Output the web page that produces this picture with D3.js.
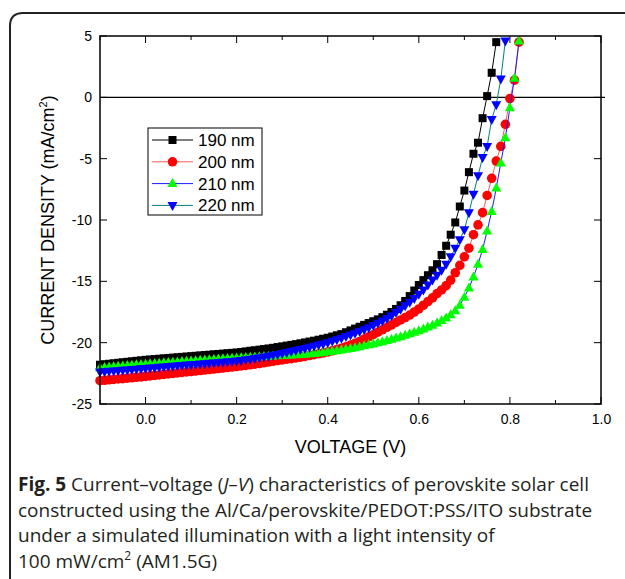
<!DOCTYPE html>
<html>
<head>
<meta charset="utf-8">
<script src="https://cdn.jsdelivr.net/npm/d3@7"></script>
<style>
  body { margin: 0; background: #fff; }
  svg { display: block; }
  .axis text { font-family: "Liberation Sans", Arial, sans-serif; font-size: 14px; fill: #000; }
  .title { font-family: "Liberation Sans", Arial, sans-serif; font-size: 18px; fill: #000; }
  .legend text { font-family: "Liberation Sans", Arial, sans-serif; font-size: 17px; fill: #000; }
  .caption { font-family: "Open Sans", sans-serif; font-size: 19px; fill: #231f20; }
</style>
</head>
<body>
<svg class="chart"></svg>
<script>
const voltage = [
  -0.10, -0.09, -0.08, -0.07, -0.06, -0.05, -0.04, -0.03, -0.02, -0.01,
  0.00, 0.01, 0.02, 0.03, 0.04, 0.05, 0.06, 0.07, 0.08, 0.09,
  0.10, 0.11, 0.12, 0.13, 0.14, 0.15, 0.16, 0.17, 0.18, 0.19,
  0.20, 0.21, 0.22, 0.23, 0.24, 0.25, 0.26, 0.27, 0.28, 0.29,
  0.30, 0.31, 0.32, 0.33, 0.34, 0.35, 0.36, 0.37, 0.38, 0.39,
  0.40, 0.41, 0.42, 0.43, 0.44, 0.45, 0.46, 0.47, 0.48, 0.49,
  0.50, 0.51, 0.52, 0.53, 0.54, 0.55, 0.56, 0.57, 0.58, 0.59,
  0.60, 0.61, 0.62, 0.63, 0.64, 0.65, 0.66, 0.67, 0.68, 0.69,
  0.70, 0.71, 0.72, 0.73, 0.74, 0.75, 0.76, 0.77, 0.78, 0.79,
  0.80, 0.81, 0.82
];

// current density (mA/cm2), one value per voltage step
const j190 = [
  -21.80, -21.76, -21.72, -21.68, -21.64, -21.60, -21.56, -21.52, -21.48, -21.44,
  -21.40, -21.37, -21.34, -21.31, -21.28, -21.25, -21.22, -21.19, -21.16, -21.13,
  -21.10, -21.07, -21.04, -21.01, -20.98, -20.95, -20.92, -20.89, -20.86, -20.83,
  -20.80, -20.76, -20.71, -20.66, -20.62, -20.57, -20.52, -20.47, -20.42, -20.36,
  -20.30, -20.24, -20.18, -20.12, -20.05, -19.98, -19.91, -19.84, -19.76, -19.68,
  -19.60, -19.50, -19.40, -19.30, -19.15, -19.00, -18.85, -18.70, -18.55, -18.40,
  -18.25, -18.10, -17.92, -17.72, -17.50, -17.25, -16.95, -16.60, -16.20, -15.75,
  -15.30, -14.90, -14.50, -14.10, -13.60, -12.85, -12.10, -11.20, -10.20, -8.90,
  -7.60, -6.10, -4.60, -3.70, -1.70, 0.10, 2.00, 4.50
];

const j200 = [
  -23.10, -23.07, -23.03, -23.00, -22.96, -22.93, -22.89, -22.86, -22.82, -22.79,
  -22.75, -22.71, -22.67, -22.63, -22.59, -22.55, -22.51, -22.47, -22.43, -22.39,
  -22.35, -22.31, -22.27, -22.23, -22.19, -22.15, -22.11, -22.07, -22.03, -21.99,
  -21.95, -21.90, -21.85, -21.80, -21.75, -21.70, -21.64, -21.58, -21.52, -21.46,
  -21.40, -21.35, -21.30, -21.24, -21.18, -21.12, -21.05, -20.98, -20.91, -20.84,
  -20.76, -20.66, -20.56, -20.45, -20.33, -20.20, -20.05, -19.90, -19.70, -19.52,
  -19.35, -19.15, -18.95, -18.75, -18.55, -18.35, -18.15, -17.95, -17.75, -17.50,
  -17.25, -16.95, -16.65, -16.35, -16.00, -15.70, -15.35, -14.90, -14.30, -13.70,
  -13.00, -12.30, -11.20, -10.40, -9.40, -8.00, -6.60, -5.20, -4.00, -2.20,
  -0.10, 1.40, 4.50
];

const j210 = [
  -22.05, -22.02, -21.99, -21.96, -21.93, -21.90, -21.87, -21.84, -21.81, -21.78,
  -21.75, -21.72, -21.69, -21.67, -21.64, -21.62, -21.59, -21.57, -21.54, -21.52,
  -21.49, -21.47, -21.44, -21.42, -21.39, -21.37, -21.34, -21.32, -21.30, -21.27,
  -21.25, -21.23, -21.21, -21.19, -21.17, -21.15, -21.13, -21.11, -21.09, -21.07,
  -21.05, -21.03, -21.01, -20.99, -20.97, -20.94, -20.91, -20.88, -20.84, -20.80,
  -20.75, -20.70, -20.65, -20.60, -20.54, -20.48, -20.41, -20.34, -20.26, -20.18,
  -20.10, -20.01, -19.92, -19.82, -19.72, -19.62, -19.51, -19.40, -19.28, -19.15,
  -19.02, -18.88, -18.73, -18.57, -18.40, -18.20, -17.98, -17.72, -17.40, -16.95,
  -16.30, -15.55, -14.65, -13.60, -12.40, -10.90, -9.30, -7.40, -5.35, -3.30,
  -0.85, 1.55, 4.60
];

const j220 = [
  -22.40, -22.37, -22.34, -22.31, -22.28, -22.25, -22.22, -22.19, -22.16, -22.13,
  -22.10, -22.07, -22.04, -22.01, -21.98, -21.95, -21.92, -21.89, -21.86, -21.83,
  -21.80, -21.77, -21.74, -21.71, -21.68, -21.65, -21.62, -21.59, -21.56, -21.53,
  -21.50, -21.45, -21.40, -21.35, -21.29, -21.23, -21.17, -21.10, -21.03, -20.96,
  -20.88, -20.80, -20.72, -20.64, -20.56, -20.47, -20.38, -20.29, -20.20, -20.10,
  -20.00, -19.88, -19.76, -19.63, -19.50, -19.37, -19.23, -19.09, -18.94, -18.78,
  -18.60, -18.42, -18.23, -18.02, -17.80, -17.55, -17.28, -17.00, -16.70, -16.40,
  -16.05, -15.70, -15.30, -14.90, -14.50, -14.10, -13.60, -13.00, -12.30, -11.60,
  -10.80, -9.40, -7.90, -6.40, -4.90, -4.00, -1.80, -0.60, 1.50, 4.60
];

const seriesNames = ['190 nm', '200 nm', '210 nm', '220 nm'];
const xTicks = [0.0, 0.2, 0.4, 0.6, 0.8, 1.0];
const yTicks = [5, 0, -5, -10, -15, -20, -25];

const captionLines = [
  'Current\u2013voltage (',
  'constructed using the Al/Ca/perovskite/PEDOT:PSS/ITO substrate',
  'under a simulated illumination with a light intensity of',
];

const width = 625;
const height = 579;
const plot = {left: 100, right: 601, top: 36, bottom: 404};

const svg = d3.select('.chart')
    .attr('width', width)
    .attr('height', height);

svg.append('rect')
    .attr('width', width)
    .attr('height', height)
    .attr('fill', '#fff');

// rounded frame, cut by the page edges
svg.append('path')
    .attr('d', 'M10,590 V26 Q10,13 23,13 H640')
    .attr('fill', 'none')
    .attr('stroke', '#222')
    .attr('stroke-width', 2);

const x = d3.scaleLinear()
    .domain([-0.1, 1.0])
    .range([plot.left, plot.right]);

const y = d3.scaleLinear()
    .domain([-25, 5])
    .range([plot.bottom, plot.top]);

const minorX = d3.range(-0.1, 1.0001, 0.1).map((d) => +d.toFixed(1));

const chart = svg.append('g');

// bottom axis
chart.append('g')
    .attr('class', 'axis')
    .attr('transform', `translate(0,${ plot.bottom })`)
    .call(d3.axisBottom(x).tickValues(xTicks).tickFormat((d) => d.toFixed(1)).tickSize(0).tickPadding(10))
    .call((g) => g.select('.domain').remove());

// left axis labels (plain hyphen for negatives)
chart.append('g')
    .attr('class', 'axis')
    .attr('transform', `translate(${ plot.left },0)`)
    .call(d3.axisLeft(y).tickValues(yTicks).tickFormat((d) => String(d)).tickSize(0).tickPadding(8))
    .call((g) => g.select('.domain').remove());

// inward ticks on all four sides
const tickG = chart.append('g').attr('stroke', '#000').attr('stroke-width', 1);
minorX.forEach((v) => {
  const isMajor = Math.abs(Math.round(v * 10) % 2) === 0;
  const len = isMajor ? 7 : 4;
  tickG.append('line')
      .attr('x1', x(v)).attr('x2', x(v))
      .attr('y1', plot.bottom).attr('y2', plot.bottom - len);
  tickG.append('line')
      .attr('x1', x(v)).attr('x2', x(v))
      .attr('y1', plot.top).attr('y2', plot.top + len);
});
yTicks.forEach((v) => {
  tickG.append('line')
      .attr('x1', plot.left).attr('x2', plot.left + 7)
      .attr('y1', y(v)).attr('y2', y(v));
  tickG.append('line')
      .attr('x1', plot.right).attr('x2', plot.right - 7)
      .attr('y1', y(v)).attr('y2', y(v));
});

// zero line
chart.append('line')
    .attr('x1', plot.left).attr('x2', plot.right + 4)
    .attr('y1', y(0)).attr('y2', y(0))
    .attr('stroke', '#000')
    .attr('stroke-width', 1.2);

const series = [
  {name: seriesNames[0], values: j190, line: '#000000', fill: '#000000', shape: 'square'},
  {name: seriesNames[1], values: j200, line: '#ff5a5a', fill: '#ff0000', shape: 'circle'},
  {name: seriesNames[2], values: j210, line: '#1a1aff', fill: '#00ff00', shape: 'up'},
  {name: seriesNames[3], values: j220, line: '#008080', fill: '#0000ff', shape: 'down'},
];

const shapePath = {
  square: 'M-4,-4H4V4H-4Z',
  circle: d3.symbol(d3.symbolCircle, 72)(),
  up: 'M0,-5.5L5,3.5L-5,3.5Z',
  down: 'M0,5.5L5,-3.5L-5,-3.5Z',
};

const line = d3.line()
    .x((d) => x(d[0]))
    .y((d) => y(d[1]));

series.forEach((s) => {
  const pts = s.values.map((v, i) => [voltage[i], v]);
  const g = chart.append('g');
  g.append('path')
      .attr('d', line(pts))
      .attr('fill', 'none')
      .attr('stroke', s.line)
      .attr('stroke-width', 1);
  g.selectAll('path.mark')
      .data(pts)
    .enter().append('path')
      .attr('class', 'mark')
      .attr('d', shapePath[s.shape])
      .attr('transform', (d) => `translate(${ x(d[0]) },${ y(d[1]) })`)
      .attr('fill', s.fill);
});

// frame of the plot
chart.append('rect')
    .attr('x', plot.left)
    .attr('y', plot.top)
    .attr('width', plot.right - plot.left)
    .attr('height', plot.bottom - plot.top)
    .attr('fill', 'none')
    .attr('stroke', '#000')
    .attr('stroke-width', 1.5);

// legend
const legend = chart.append('g').attr('class', 'legend');
legend.append('rect')
    .attr('x', 148).attr('y', 128)
    .attr('width', 114).attr('height', 87)
    .attr('fill', '#fff')
    .attr('stroke', '#000')
    .attr('stroke-width', 1);

series.forEach((s, i) => {
  const ly = 140 + i * 21.8;
  legend.append('line')
      .attr('x1', 152).attr('x2', 193)
      .attr('y1', ly).attr('y2', ly)
      .attr('stroke', s.line);
  legend.append('path')
      .attr('d', shapePath[s.shape])
      .attr('transform', `translate(172.5,${ ly })`)
      .attr('fill', s.fill);
  legend.append('text')
      .attr('x', 198)
      .attr('y', ly + 6)
      .text(s.name);
});

// axis titles
svg.append('text')
    .attr('class', 'title')
    .attr('x', (plot.left + plot.right) / 2)
    .attr('y', 453)
    .attr('text-anchor', 'middle')
    .text('VOLTAGE (V)');

const yTitle = svg.append('text')
    .attr('class', 'title')
    .attr('transform', `translate(54,${ (plot.top + plot.bottom) / 2 }) rotate(-90)`)
    .attr('text-anchor', 'middle');
yTitle.append('tspan').text('CURRENT DENSITY (mA/cm');
yTitle.append('tspan').attr('dy', -7).attr('font-size', 11).text('2');
yTitle.append('tspan').attr('dy', 7).text(')');

// caption
const cap = svg.append('g').attr('class', 'caption');
const l1 = cap.append('text').attr('x', 18).attr('y', 491);
l1.append('tspan').attr('font-weight', 'bold').text('Fig. 5');
l1.append('tspan').text(' ' + captionLines[0]);
l1.append('tspan').attr('font-style', 'italic').text('J\u2013V');
l1.append('tspan').text(') characteristics of perovskite solar cell');
cap.append('text').attr('x', 18).attr('y', 517).text(captionLines[1]);
cap.append('text').attr('x', 18).attr('y', 542).text(captionLines[2]);
const l4 = cap.append('text').attr('x', 18).attr('y', 568);
l4.append('tspan').text('100 mW/cm');
l4.append('tspan').attr('dy', -8).attr('font-size', 12).text('2');
l4.append('tspan').attr('dy', 8).text(' (AM1.5G)');
</script>
</body>
</html>
